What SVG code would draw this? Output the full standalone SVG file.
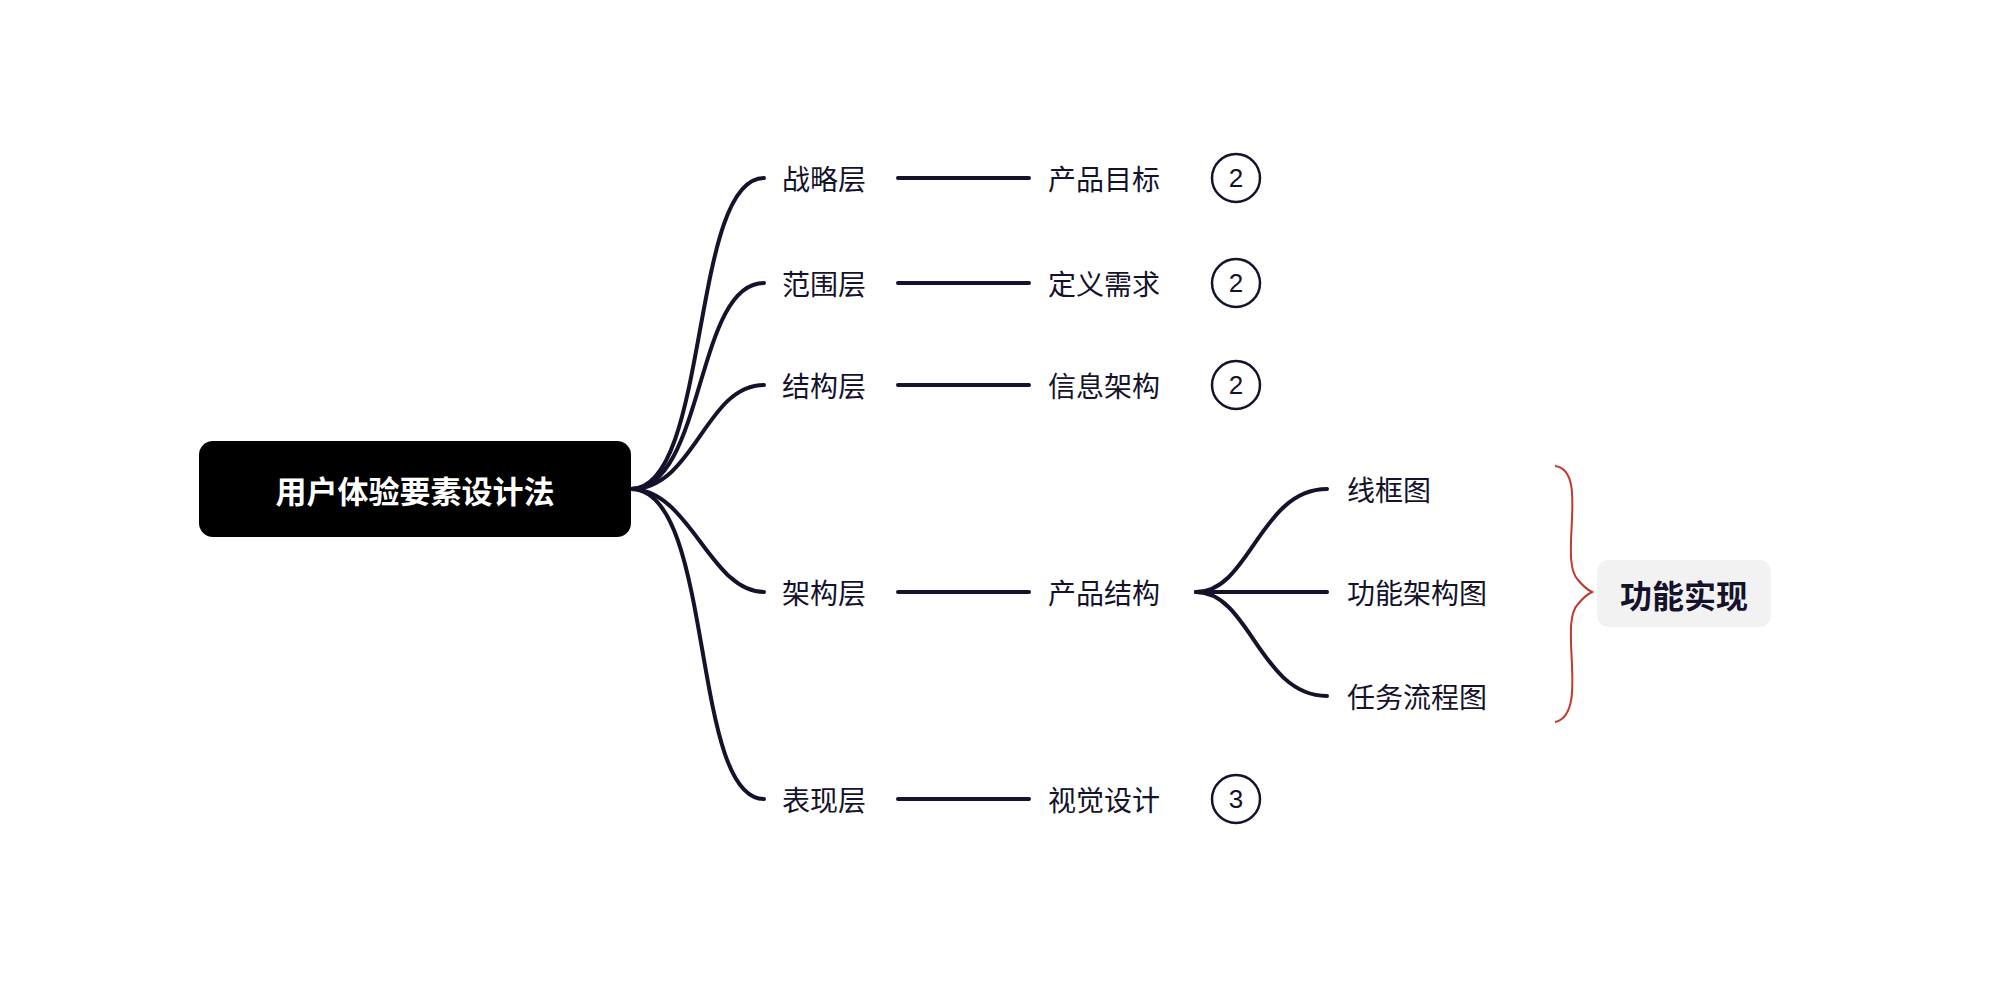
<svg xmlns="http://www.w3.org/2000/svg" width="2014" height="982" viewBox="0 0 2014 982">
<style>
.c{fill:none;stroke:#15122b;stroke-width:4;stroke-linecap:round}
.t{font-family:"Noto Sans CJK SC","Noto Sans",sans-serif;font-size:28px;fill:#15122b;dominant-baseline:central}
.n{font-family:"Liberation Sans",sans-serif;font-size:26px;fill:#15122b;text-anchor:middle;dominant-baseline:central}
.o{fill:#fff;stroke:#15122b;stroke-width:2.5}
</style>
<rect width="2014" height="982" fill="#fff"/>
<g id="connectors">
<path class="c" d="M631 489 C710 489 690 178 764 178"/>
<path class="c" d="M631 489 C705 489 695 283 764 283"/>
<path class="c" d="M631 489 C695 489 705 385 764 385"/>
<path class="c" d="M631 489 C690 489 710 592 764 592"/>
<path class="c" d="M631 489 C715 489 690 799 764 799"/>
<path class="c" d="M898 178H1029M898 283H1029M898 385H1029M898 592H1029M898 799H1029"/>
<path class="c" d="M1196 592 C1250 592 1260 489 1327 489"/>
<path class="c" d="M1196 592H1327"/>
<path class="c" d="M1196 592 C1250 592 1260 696 1327 696"/>
<path d="M1555 466 C1590 470 1558 560 1578 580 C1583 586 1588 590 1592 592 C1588 594 1583 598 1578 604 C1558 624 1590 714 1555 722" fill="none" stroke="#c0392b" stroke-width="2"/>
</g>
<g id="root"><rect x="199" y="441" width="432" height="96" rx="14" fill="#000"/><text x="415" y="489" font-family="Noto Sans CJK SC,sans-serif" font-size="31" font-weight="bold" fill="#fff" text-anchor="middle" dominant-baseline="central">用户体验要素设计法</text></g>
<g id="n1"><text class="t" x="782" y="178">战略层</text></g>
<g id="n2"><text class="t" x="782" y="283">范围层</text></g>
<g id="n3"><text class="t" x="782" y="385">结构层</text></g>
<g id="n4"><text class="t" x="782" y="592">架构层</text></g>
<g id="n5"><text class="t" x="782" y="799">表现层</text></g>
<g id="m1"><text class="t" x="1048" y="178">产品目标</text><circle class="o" cx="1236" cy="178" r="24"/><text class="n" x="1236" y="178">2</text></g>
<g id="m2"><text class="t" x="1048" y="283">定义需求</text><circle class="o" cx="1236" cy="283" r="24"/><text class="n" x="1236" y="283">2</text></g>
<g id="m3"><text class="t" x="1048" y="385">信息架构</text><circle class="o" cx="1236" cy="385" r="24"/><text class="n" x="1236" y="385">2</text></g>
<g id="m4"><text class="t" x="1048" y="592">产品结构</text></g>
<g id="m5"><text class="t" x="1048" y="799">视觉设计</text><circle class="o" cx="1236" cy="799" r="24"/><text class="n" x="1236" y="799">3</text></g>
<g id="l1"><text class="t" x="1347" y="489">线框图</text></g>
<g id="l2"><text class="t" x="1347" y="592">功能架构图</text></g>
<g id="l3"><text class="t" x="1347" y="696">任务流程图</text></g>
<g id="summary"><rect x="1597" y="560" width="174" height="67" rx="12" fill="#f2f2f2"/><text x="1684" y="594" font-family="Noto Sans CJK SC,sans-serif" font-size="32" font-weight="bold" fill="#15122b" text-anchor="middle" dominant-baseline="central">功能实现</text></g>
</svg>
